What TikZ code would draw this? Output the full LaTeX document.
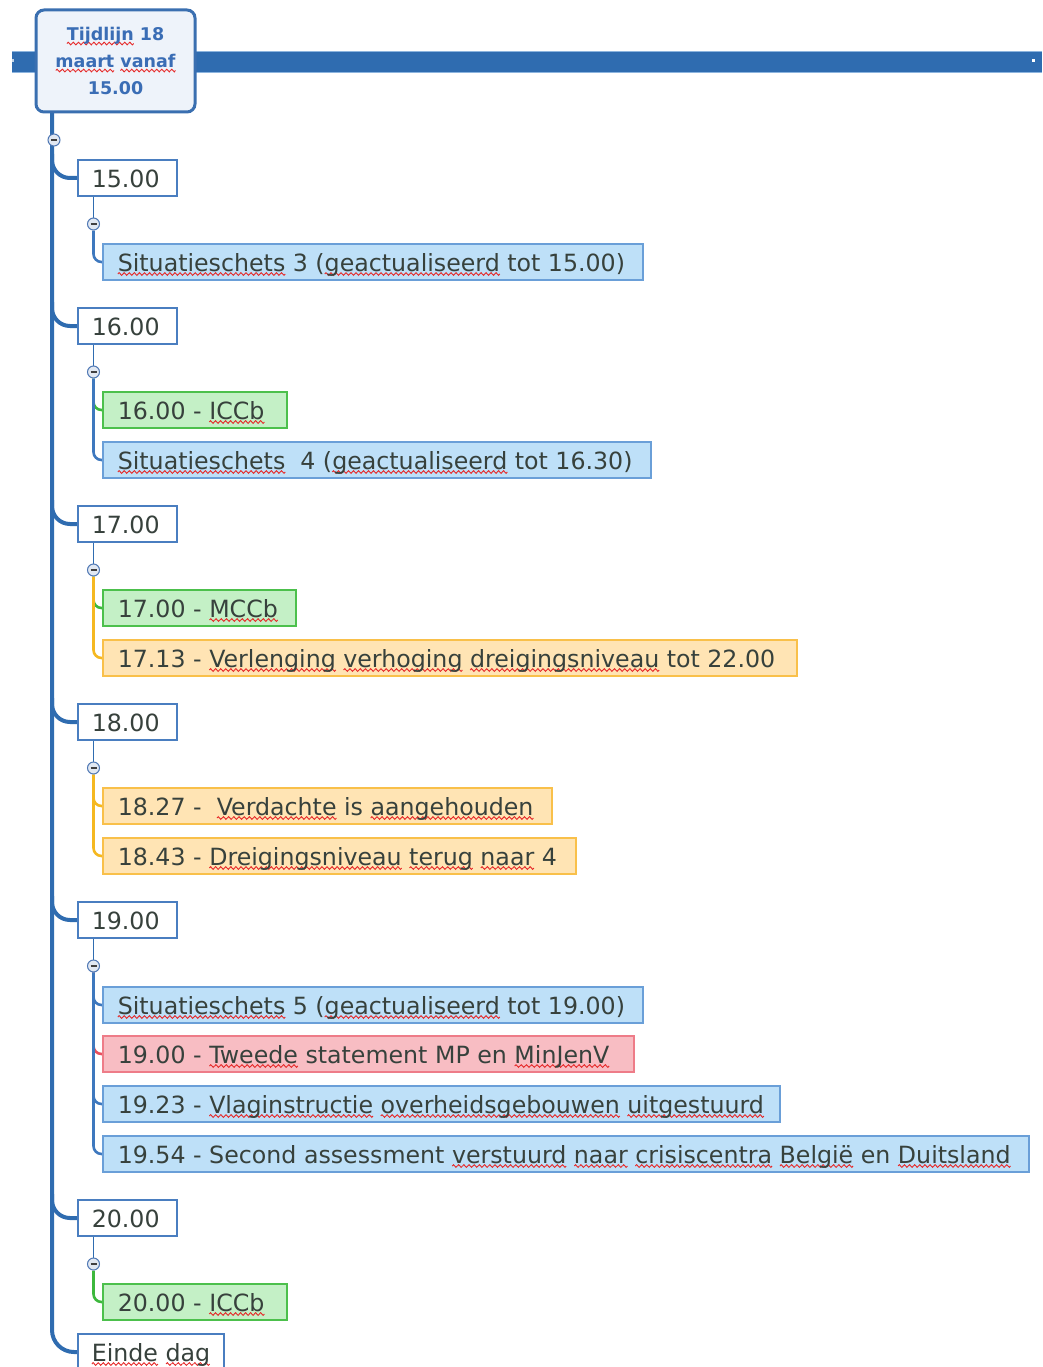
\documentclass[tikz,border=0pt]{standalone}
\usepackage{fontspec}
\setmainfont{DejaVu Sans}
\usetikzlibrary{backgrounds}
\definecolor{linblue}{RGB}{47,108,176}
\definecolor{barlight}{RGB}{140,180,222}
\definecolor{rootfill}{RGB}{238,243,250}
\definecolor{rootline}{RGB}{58,111,176}
\definecolor{roottxt}{RGB}{58,109,181}
\definecolor{hourline}{RGB}{74,126,192}
\definecolor{txt}{RGB}{55,65,60}
\definecolor{bfill}{RGB}{190,224,248}
\definecolor{bline}{RGB}{106,159,216}
\definecolor{bconn}{RGB}{62,120,190}
\definecolor{gfill}{RGB}{196,240,198}
\definecolor{gline}{RGB}{76,192,76}
\definecolor{gconn}{RGB}{61,184,61}
\definecolor{ofill}{RGB}{255,228,180}
\definecolor{oline}{RGB}{249,192,74}
\definecolor{oconn}{RGB}{245,184,32}
\definecolor{rfill}{RGB}{248,189,195}
\definecolor{rline}{RGB}{238,124,136}
\definecolor{rconn}{RGB}{232,80,94}
\definecolor{wavered}{RGB}{230,40,40}
\definecolor{togfill}{RGB}{225,232,242}
\definecolor{togline}{RGB}{80,120,180}
\newsavebox\wavebox
\sbox\wavebox{\begin{pgfpicture}%
\pgfpathrectangle{\pgfpoint{0pt}{-1pt}}{\pgfpoint{5pt}{2pt}}\pgfusepath{use as bounding box}%
\pgfsetlinewidth{0.9pt}\pgfsetstrokecolor{wavered}%
\pgfpathmoveto{\pgfpoint{0pt}{0pt}}%
\pgfpathcurveto{\pgfpoint{0.8pt}{1.8pt}}{\pgfpoint{1.7pt}{1.8pt}}{\pgfpoint{2.5pt}{0pt}}%
\pgfpathcurveto{\pgfpoint{3.3pt}{-1.8pt}}{\pgfpoint{4.2pt}{-1.8pt}}{\pgfpoint{5pt}{0pt}}%
\pgfusepath{stroke}%
\end{pgfpicture}}
\newsavebox\sqbox
\newcommand\sq[1]{\sbox\sqbox{#1}\rlap{\lower4pt\hbox to \wd\sqbox{\xleaders\copy\wavebox\hfill}}\usebox\sqbox}
\newcommand\kt[2]{\makebox[#1pt][l]{#2}}
\tikzset{
  base/.style={anchor=west, minimum height=36pt, inner xsep=15pt, inner ysep=0pt,
    text height=20pt, text depth=2pt, font=\fontsize{23.7}{26}\selectfont, text=txt, line width=1.6pt},
  hourbox/.style={base, inner xsep=14pt, draw=hourline, fill=white},
  kidb/.style={base, draw=bline, fill=bfill},
  kidg/.style={base, draw=gline, fill=gfill},
  kido/.style={base, draw=oline, fill=ofill},
  kidr/.style={base, draw=rline, fill=rfill},
  rootbox/.style={draw=rootline, fill=rootfill, line width=3pt, rounded corners=8pt,
    minimum width=159pt, minimum height=102pt, align=center, text=roottxt,
    font=\fontsize{17.5}{27}\selectfont\bfseries},
  toggle/.style={circle, draw=togline, fill=togfill, line width=1pt, minimum size=12pt, inner sep=0pt,
    path picture={\draw[line width=1.6pt, black!75] ([xshift=-3pt]path picture bounding box.center) -- ([xshift=3pt]path picture bounding box.center);}},
  mainline/.style={draw=linblue, line width=4pt},
  hline/.style={draw=linblue, line width=1.6pt},
  conn/.style={line width=2.6pt, rounded corners=8pt},
}
\begin{document}
\begin{tikzpicture}[x=1pt, y=-1pt]
\useasboundingbox (0,0) rectangle (1042,1367);
\clip (0,0) rectangle (1042,1367);
% top bar
\fill[linblue] (12,52) rectangle (1042,72);
\draw[barlight, line width=1pt] (12,51.5) -- (1042,51.5) (12,72.5) -- (1042,72.5);
\fill[white] (1031.5,59.5) rectangle (1034.5,62.5);
\fill[white!70!linblue] (11.5,59.5) rectangle (14,62.5);
% root
\node[rootbox] (root) at (115.5,61) {\sq{Tijdlijn} 18\\\sq{maart} \sq{vanaf}\\15.00};
\coordinate (mtop) at (52,112);
\node[toggle] (t0) at (54,140) {};
% hour nodes
\node[hourbox] (h15) at (77,178) {\kt{71}{15.00}};
\node[hourbox] (h16) at (77,326) {\kt{71}{16.00}};
\node[hourbox] (h17) at (77,524) {\kt{71}{17.00}};
\node[hourbox] (h18) at (77,722) {\kt{71}{18.00}};
\node[hourbox] (h19) at (77,920) {\kt{71}{19.00}};
\node[hourbox] (h20) at (77,1218) {\kt{71}{20.00}};
\node[hourbox] (ende) at (77,1352) {\kt{118}{\sq{Einde} \sq{dag}}};
% toggles
\node[toggle] (t15) at (93.5,224) {};
\node[toggle] (t16) at (93.5,372) {};
\node[toggle] (t17) at (93.5,570) {};
\node[toggle] (t18) at (93.5,768) {};
\node[toggle] (t19) at (93.5,966) {};
\node[toggle] (t20) at (93.5,1264) {};
% children
\node[kidb] (s3) at (102,262) {\kt{510}{\sq{Situatieschets} 3 (\sq{geactualiseerd} tot 15.00)}};
\node[kidg] (i16) at (102,410) {\kt{154}{16.00 - \sq{ICCb}}};
\node[kidb] (s4) at (102,460) {\kt{518}{\sq{Situatieschets}\ \ 4 (\sq{geactualiseerd} tot 16.30)}};
\node[kidg] (m17) at (102,608) {\kt{163}{17.00 - \sq{MCCb}}};
\node[kido] (v17) at (102,658) {\kt{664}{17.13 - \sq{Verlenging} \sq{verhoging} \sq{dreigingsniveau} tot 22.00}};
\node[kido] (v18) at (102,806) {\kt{419}{18.27 -\ \ \sq{Verdachte} is \sq{aangehouden}}};
\node[kido] (d18) at (102,856) {\kt{443}{18.43 - \sq{Dreigingsniveau} \sq{terug} \sq{naar} 4}};
\node[kidb] (s5) at (102,1005) {\kt{510}{\sq{Situatieschets} 5 (\sq{geactualiseerd} tot 19.00)}};
\node[kidr] (t19s) at (102,1054) {\kt{501}{19.00 - \sq{Tweede} statement MP en \sq{MinJenV}}};
\node[kidb] (vl19) at (102,1104) {\kt{647}{19.23 - \sq{Vlaginstructie} \sq{overheidsgebouwen} \sq{uitgestuurd}}};
\node[kidb] (sa19) at (102,1154) {\kt{896}{19.54 - Second assessment \sq{verstuurd} \sq{naar} \sq{crisiscentra} \sq{België} en \sq{Duitsland}}};
\node[kidg] (i20) at (102,1302) {\kt{154}{20.00 - \sq{ICCb}}};
\begin{scope}[on background layer]
  \draw[mainline, rounded corners=22pt] (mtop) |- (ende.west);
  \foreach \h in {h15,h16,h17,h18,h19,h20}
    \draw[mainline, rounded corners=18pt] ([yshift=24pt]\h.west -| mtop) |- (\h.west);
  \foreach \h/\t in {h15/t15,h16/t16,h17/t17,h18/t18,h19/t19,h20/t20}
    \draw[hline] (\t |- \h.south) -- (\t);
  \draw[conn, bconn] (t15.south) |- (s3.west);
  \draw[conn, gconn] (t16.south) |- (i16.west);
  \draw[conn, bconn] (t16.south) |- (s4.west);
  \draw[conn, gconn] (t17.south) |- (m17.west);
  \draw[conn, oconn] (t17.south) |- (v17.west);
  \draw[conn, oconn] (t18.south) |- (v18.west);
  \draw[conn, oconn] (t18.south) |- (d18.west);
  \draw[conn, bconn] (t19.south) |- (s5.west);
  \draw[conn, rconn] (t19.south) |- (t19s.west);
  \draw[conn, bconn] (t19.south) |- (vl19.west);
  \draw[conn, bconn] (t19.south) |- (sa19.west);
  \draw[conn, gconn] (t20.south) |- (i20.west);
\end{scope}
\end{tikzpicture}
\end{document}
